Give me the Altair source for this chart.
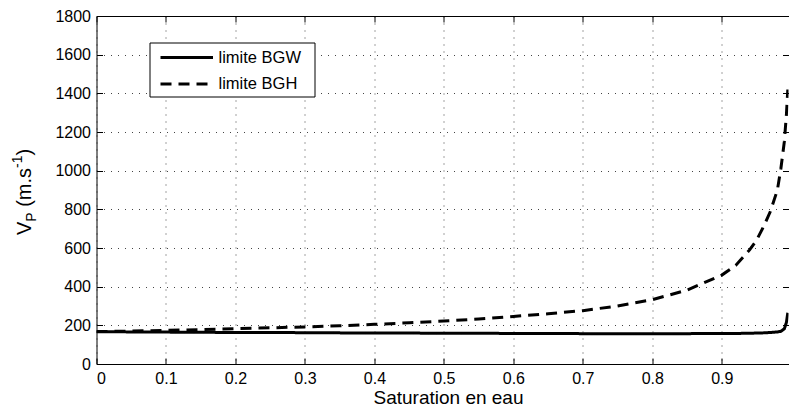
import altair as alt
import pandas as pd

# ---- data ----
sw = [0, 0.05, 0.1, 0.15, 0.2, 0.25, 0.3, 0.35, 0.4, 0.45, 0.5, 0.55, 0.6, 0.65,
      0.7, 0.75, 0.8, 0.85, 0.9, 0.92, 0.94, 0.95, 0.96, 0.97, 0.98, 0.985,
      0.99, 0.993, 0.995]
bgw = [167, 166, 165, 164, 163, 163, 162, 161, 160, 160, 159, 159, 158, 158,
       157, 157, 157, 157, 158, 158, 159, 160, 161, 163, 166, 169,
       182, 215, 265]
bgh = [168, 170, 174, 178, 183, 187, 192, 198, 205, 213, 222, 233, 246, 260,
       276, 300, 333, 382, 460, 510, 590, 640, 710, 790, 900, 1010,
       1150, 1290, 1420]
series = ["limite BGW", "limite BGH"]
x_ticks = [0, 0.1, 0.2, 0.3, 0.4, 0.5, 0.6, 0.7, 0.8, 0.9]
y_ticks = [0, 200, 400, 600, 800, 1000, 1200, 1400, 1600, 1800]
x_title = "Saturation en eau"

df = pd.concat([
    pd.DataFrame({"sw": sw, "v": bgw, "serie": series[0]}),
    pd.DataFrame({"sw": sw, "v": bgh, "serie": series[1]}),
])

FONT = "Liberation Sans"
PL, PT = 88.5, 8
W, H = 692, 348
one = pd.DataFrame({"a": [0]})

xs = alt.Scale(domain=[0, 0.996], nice=False, zero=False)
ys = alt.Scale(domain=[0, 1800], nice=False)
dash_scale = alt.Scale(domain=series, range=[[1, 0], [11, 7]])

main_x = alt.Axis(values=x_ticks, format=".1~f", labelFontSize=16, labelFont=FONT,
                  labelColor="black", labelPadding=6, ticks=False,
                  domain=True, domainColor="black", domainWidth=1,
                  grid=True, gridDash=[1, 6], gridColor="#444", gridWidth=1,
                  title=x_title, titleFont=FONT, titleFontSize=19,
                  titleFontWeight="normal", titleColor="black",
                  titleX=(448 - 96.5), titleY=39, titleAlign="center",
                  titleBaseline="alphabetic")
main_y = alt.Axis(values=y_ticks, format="d", labelFontSize=16, labelFont=FONT,
                  labelColor="black", labelPadding=6, ticks=False,
                  domain=True, domainColor="black", domainWidth=1,
                  grid=True, gridDash=[1, 6], gridColor="#444", gridWidth=1,
                  title=None)
top_axis = alt.Axis(orient="top", values=x_ticks, labels=False, domain=True,
                    domainColor="black", domainWidth=1, grid=False, ticks=False,
                    title=None)

lines = alt.Chart(df).mark_line(color="black", strokeWidth=3, clip=True).encode(
    x=alt.X("sw:Q", scale=xs, axis=main_x),
    y=alt.Y("v:Q", scale=ys, axis=main_y),
    strokeDash=alt.StrokeDash("serie:N", scale=dash_scale, legend=None),
)


def tick_axis(orient, vals):
    return alt.Axis(orient=orient, values=vals, labels=False, domain=False,
                    grid=False, ticks=True, tickSize=6, offset=-6,
                    tickColor="black", tickWidth=1, title=None)


ticks_bl = alt.Chart(df).mark_line(opacity=0).encode(
    x=alt.X("sw:Q", scale=xs, axis=tick_axis("bottom", x_ticks)),
    y=alt.Y("v:Q", scale=ys, axis=tick_axis("left", y_ticks)),
)
ticks_tr = alt.Chart(df).mark_line(opacity=0).encode(
    x=alt.X("sw:Q", scale=xs, axis=tick_axis("top", x_ticks)),
    y=alt.Y("v:Q", scale=ys, axis=tick_axis("right", y_ticks)),
)
top_border = alt.Chart(df).mark_line(opacity=0).encode(
    x=alt.X("sw:Q", scale=xs, axis=top_axis),
    y=alt.Y("v:Q", scale=ys, axis=None),
)

# ---- y-axis title with subscript / superscript ----
F, f = 20, 14
bx = 31 - PL - 8        # baseline at page x 31
y0 = 235 - PT - 8       # start of the title at page y 235
pieces = [("V", F, 0, 0.667), ("P", f, 5, 0.667), ("(m.s", F, 0, 1.944),
          ("-1", f, -9, 0.889), (")", F, 0, 0.333)]
gaps = {"P": 5.5}       # the space after the subscript
title_layers = []
pos = y0
for txt, size, shift, wem in pieces:
    title_layers.append(
        alt.Chart(one).mark_text(angle=270, align="left", baseline="alphabetic",
                                 font=FONT, fontSize=size, color="black").encode(
            x=alt.value(bx + shift), y=alt.value(pos), text=alt.value(txt))
    )
    pos -= wem * size + gaps.get(txt, 0)

# ---- legend box ----
ox, oy = PL + 8, PT + 8
lx0, lx1, ly0, ly1 = 150 - ox, 315 - ox, 43 - oy, 97 - oy
rows = [57.5 - oy, 84 - oy]
legend_layers = [
    alt.Chart(one).mark_rect(fill="white", stroke="black", strokeWidth=1).encode(
        x=alt.value(lx0), x2=alt.value(lx1), y=alt.value(ly0), y2=alt.value(ly1))
]
dashes = [[1, 0], [11, 7]]
for i, name in enumerate(series):
    legend_layers.append(
        alt.Chart(one).mark_rule(color="black", strokeWidth=3,
                                 strokeDash=dashes[i]).encode(
            x=alt.value(160.5 - ox), x2=alt.value(213 - ox),
            y=alt.value(rows[i]))
    )
    legend_layers.append(
        alt.Chart(one).mark_text(align="left", baseline="middle", font=FONT,
                                 fontSize=16.5, color="black").encode(
            x=alt.value(218.5 - ox), y=alt.value(rows[i]), text=alt.value(name))
    )

chart = alt.layer(lines, ticks_bl, ticks_tr, top_border, *title_layers,
                  *legend_layers).resolve_axis(
    x="independent", y="independent"
).properties(
    width=W, height=H,
    autosize=alt.AutoSizeParams(type="none"),
    padding={"left": PL, "top": PT, "right": 0, "bottom": 42},
    background="white",
).configure_view(stroke=None)

chart.save("out.html", embed_options={"renderer": "svg", "actions": False})
